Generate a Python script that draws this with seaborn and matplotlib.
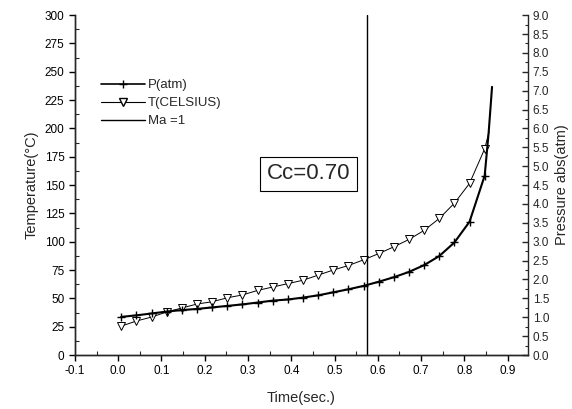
import matplotlib
matplotlib.use("Agg")
import matplotlib.pyplot as plt
import seaborn as sns
import pandas as pd
from matplotlib.ticker import MultipleLocator
from matplotlib.lines import Line2D

# ---- data ----
time_p = [0.007, 0.042, 0.077, 0.112, 0.147, 0.182, 0.217, 0.252, 0.287, 0.322,
          0.357, 0.392, 0.427, 0.462, 0.497, 0.532, 0.567, 0.602, 0.637, 0.672,
          0.707, 0.742, 0.777, 0.812, 0.847, 0.856, 0.860, 0.864]
pressure = [1.01, 1.05, 1.10, 1.15, 1.19, 1.22, 1.26, 1.30, 1.34, 1.39,
            1.44, 1.47, 1.52, 1.58, 1.66, 1.74, 1.83, 1.94, 2.06, 2.20,
            2.38, 2.62, 2.98, 3.53, 4.75, 5.87, 6.48, 7.10]
time_t = [0.007, 0.042, 0.077, 0.112, 0.147, 0.182, 0.217, 0.252, 0.287, 0.322,
          0.357, 0.392, 0.427, 0.462, 0.497, 0.532, 0.567, 0.602, 0.637, 0.672,
          0.707, 0.742, 0.777, 0.812, 0.847, 0.857]
temperature = [25.5, 30.0, 33.5, 38.0, 41.5, 45.0, 47.0, 50.5, 53.0, 57.0,
               60.0, 63.0, 66.0, 70.5, 75.0, 79.0, 84.0, 89.5, 95.5, 102.0,
               110.0, 120.5, 134.0, 151.5, 182.0, 197.0]
mach_time = 0.575
annotation = "Cc=0.70"

x_ticks = [-0.1, 0.0, 0.1, 0.2, 0.3, 0.4, 0.5, 0.6, 0.7, 0.8, 0.9]
t_ticks = [0, 25, 50, 75, 100, 125, 150, 175, 200, 225, 250, 275, 300]
p_ticks = [0.0, 0.5, 1.0, 1.5, 2.0, 2.5, 3.0, 3.5, 4.0, 4.5, 5.0, 5.5, 6.0,
           6.5, 7.0, 7.5, 8.0, 8.5, 9.0]

df_p = pd.DataFrame({"time": time_p, "p": pressure})
df_t = pd.DataFrame({"time": time_t, "T": temperature})

sns.set_style("ticks")
plt.rcParams["font.family"] = ["Liberation Sans", "DejaVu Sans"]

fig = plt.figure(figsize=(5.72, 4.09), dpi=100)
ax = fig.add_axes([0.131, 0.132, 0.792, 0.831])
ax2 = ax.twinx()

sns.lineplot(data=df_t, x="time", y="T", ax=ax, color="black", lw=0.7,
             marker="v", markersize=5.5, markerfacecolor="white",
             markeredgecolor="black", markeredgewidth=0.7,
             markevery=list(range(len(time_t) - 1)), label="T(CELSIUS)", legend=False)
ax.axvline(mach_time, color="black", lw=1.0)

sns.lineplot(data=df_p, x="time", y="p", ax=ax2, color="black", lw=1.5,
             marker="+", markersize=6, markeredgewidth=1.0,
             markeredgecolor="black", markerfacecolor="black",
             markevery=list(range(25)), label="P(atm)", legend=False)

ax.set_xlim(-0.1, 0.947)
ax.set_ylim(0, 300)
ax2.set_ylim(0, 9)
ax.set_xticks(x_ticks)
ax.set_xticklabels([f"{v:.1f}" for v in x_ticks])
ax.set_yticks(t_ticks)
ax2.set_yticks(p_ticks)
ax2.set_yticklabels([f"{v:.1f}" for v in p_ticks])
ax.xaxis.set_minor_locator(MultipleLocator(0.05))
ax.yaxis.set_minor_locator(MultipleLocator(12.5))
ax2.yaxis.set_minor_locator(MultipleLocator(0.25))

for a in (ax, ax2):
    a.spines["top"].set_visible(False)
    for s in a.spines.values():
        s.set_linewidth(1.0)
ax.spines["right"].set_visible(False)
ax.tick_params(axis="both", which="major", direction="out", length=4,
               width=1, labelsize=8.5, colors="black")
ax.tick_params(axis="both", which="minor", direction="in", length=3, width=0.8)
ax2.tick_params(axis="y", which="major", direction="in", length=4, width=1,
                labelsize=8.5)
ax2.tick_params(axis="y", which="minor", direction="in", length=2.5, width=0.8)

ax.set_xlabel("Time(sec.)", fontsize=10.5, labelpad=10)
ax.set_ylabel("Temperature(°C)", fontsize=10.5, labelpad=4)
ax2.set_ylabel("Pressure abs(atm)", fontsize=10.5, labelpad=4)

ax.text(0.44, 160, annotation, fontsize=16, ha="center", va="center",
        bbox=dict(boxstyle="square,pad=0.3", fc="white", ec="black", lw=0.8))

handles = [
    Line2D([], [], color="black", lw=1.2, marker="+", markersize=6),
    Line2D([], [], color="black", lw=0.8, marker="v", markersize=5.5,
           markerfacecolor="white"),
    Line2D([], [], color="black", lw=1.0),
]
labels = ["P(atm)", "T(CELSIUS)", "Ma =1"]
ax2.legend(handles, labels, loc="upper left", bbox_to_anchor=(0.168, 0.82),
           bbox_transform=fig.transFigure, frameon=False, fontsize=9.5,
           handlelength=3.3, handletextpad=0.2, labelspacing=0.45,
           borderaxespad=0)

fig.savefig("out.png", dpi=100)
